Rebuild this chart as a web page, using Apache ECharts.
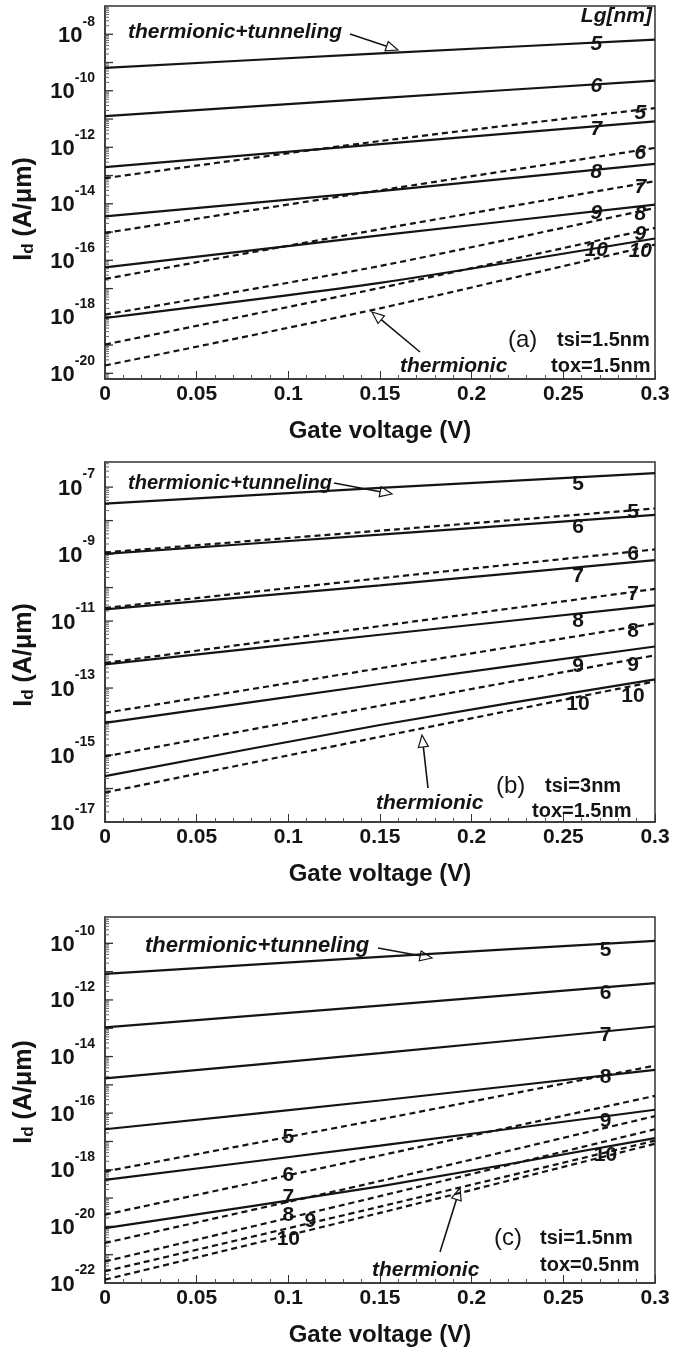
<!DOCTYPE html>
<html><head><meta charset="utf-8">
<script src="https://cdn.jsdelivr.net/npm/echarts@6/dist/echarts.min.js"></script>
<style>html,body{margin:0;padding:0;background:#fff}#c{width:686px;height:1354px}</style>
</head><body><div id="c"></div>
<script>
// Gate voltage sample points (V)
const gateVoltage = [0, 0.15, 0.3];
const gateLengths = ['5', '6', '7', '8', '9', '10'];
const xTicks = [0, 0.05, 0.1, 0.15, 0.2, 0.25, 0.3];
// Drain current Id (A/um); rows = Lg 5..10, columns = gateVoltage
// (a) tsi=1.5nm tox=1.5nm
const aTunneling = [[6.5e-10, 2.1e-9, 6.5e-9], [1.26e-11, 5.5e-11, 2.3e-10], [2.0e-13, 1.3e-12, 8.3e-12], [3.6e-15, 2.8e-14, 2.6e-13], [5.6e-17, 7.6e-16, 9.3e-15], [9.1e-19, 1.6e-17, 5.9e-16]];
const aThermionic = [[8.1e-14, 1.66e-12, 2.45e-11], [9.3e-16, 3.0e-14, 9.5e-13], [2.2e-17, 1.26e-15, 6.3e-14], [1.2e-18, 6.3e-17, 7.1e-15], [1.05e-19, 1.05e-17, 1.4e-15], [1.9e-20, 2.0e-18, 3.6e-16]];
// (b) tsi=3nm tox=1.5nm
const bTunneling = [[3.2e-8, 9.5e-8, 2.6e-7], [1.02e-9, 3.8e-9, 1.48e-8], [2.24e-11, 1.17e-10, 6.6e-10], [5.1e-13, 3.9e-12, 2.95e-11], [9.1e-15, 1.32e-13, 1.74e-12], [2.34e-16, 7.9e-15, 1.82e-13]];
const bThermionic = [[1.12e-9, 5.0e-9, 2.3e-8], [2.45e-11, 1.9e-10, 1.38e-9], [5.6e-13, 7.1e-12, 9.1e-11], [1.82e-14, 3.9e-13, 8.5e-12], [9.1e-16, 2.95e-14, 9.5e-13], [7.6e-17, 3.5e-15, 1.58e-13]];
// (c) tsi=1.5nm tox=0.5nm
const cTunneling = [[8.3e-12, 3.3e-11, 1.23e-10], [1.07e-13, 6.3e-13, 3.9e-12], [1.7e-15, 1.32e-14, 1.15e-13], [2.7e-17, 2.8e-16, 3.4e-15], [4.4e-19, 7.1e-18, 1.32e-16], [8.7e-21, 2.6e-19, 1.32e-17]];
const cThermionic = [[8.7e-19, 6.0e-17, 4.8e-15], [2.6e-20, 3.2e-18, 4.1e-16], [2.6e-21, 4.0e-19, 7.9e-17], [5.8e-22, 1.17e-19, 2.7e-17], [2.6e-22, 5.0e-20, 1.07e-17], [1.32e-22, 3.0e-20, 8.3e-18]];
// y tick labels (powers of ten) per panel
const aYLabels = [-20, -18, -16, -14, -12, -10, -8];
const bYLabels = [-17, -15, -13, -11, -9, -7];
const cYLabels = [-22, -20, -18, -16, -14, -12, -10];
const panelText = [
  {tag: '(a)', tsi: 'tsi=1.5nm', tox: 'tox=1.5nm'},
  {tag: '(b)', tsi: 'tsi=3nm', tox: 'tox=1.5nm'},
  {tag: '(c)', tsi: 'tsi=1.5nm', tox: 'tox=0.5nm'}
];

const FONT = "'Liberation Sans', Arial, sans-serif";
const INK = '#141414';

const panels = [
  {solid: aTunneling, dashed: aThermionic, yMin: -20.2, yMax: -7, yStep: 0.2, yLabels: aYLabels,
   grid: {left: 105, top: 6, width: 550, height: 373},
   sLabX: 0.268, dLabX: 0.292, sOff: [2, 2, 3, 3, 2, 2], dOff: [3, 3, 3, 3, 3, 3], dX: null, italic: true},
  {solid: bTunneling, dashed: bThermionic, yMin: -17, yMax: -6.25, yStep: 1, yLabels: bYLabels,
   grid: {left: 105, top: 462, width: 550, height: 360},
   sLabX: 0.258, dLabX: 0.288, sOff: [7, 7, 9, 8, 9, 12], dOff: [2, 2, 2, 4, 6, 10], dX: null, italic: false},
  {solid: cTunneling, dashed: cThermionic, yMin: -22, yMax: -9.07, yStep: 1, yLabels: cYLabels,
   grid: {left: 105, top: 917, width: 550, height: 366},
   sLabX: 0.273, dLabX: 0.1, sOff: [7, 6, 4, 2, 5, 8], dOff: [0, 0, -4, -3, -2, 4], dX: [0.1, 0.1, 0.1, 0.1, 0.112, 0.1], italic: false}
];

function logInterp(vals, x) {
  const lg = vals.map(v => Math.log10(v));
  for (let k = 0; k < gateVoltage.length - 1; k++) {
    const x0 = gateVoltage[k], x1 = gateVoltage[k + 1];
    if (x >= x0 && x <= x1) return lg[k] + (lg[k + 1] - lg[k]) * (x - x0) / (x1 - x0);
  }
  return lg[lg.length - 1];
}

const grids = [], xAxes = [], yAxes = [], series = [];
panels.forEach((p, pi) => {
  grids.push(Object.assign({show: true, borderColor: '#333', borderWidth: 1.5, backgroundColor: 'transparent'}, p.grid));
  xAxes.push({
    type: 'value', gridIndex: pi, min: 0, max: 0.3, interval: 0.05,
    name: 'Gate voltage (V)', nameLocation: 'middle', nameGap: 40,
    nameTextStyle: {fontFamily: FONT, fontWeight: 'bold', fontSize: 24, color: INK},
    axisLine: {show: true, lineStyle: {color: '#333', width: 1.5}},
    axisTick: {show: true, inside: true, length: 8, lineStyle: {color: '#333'}},
    minorTick: {show: true, splitNumber: 5, length: 4, lineStyle: {color: '#555'}},
    splitLine: {show: false},
    axisLabel: {fontFamily: FONT, fontWeight: 'bold', fontSize: 21, color: INK, margin: 5,
      formatter: v => (xTicks.indexOf(+v.toFixed(2)) >= 0 ? String(+v.toFixed(2)) : '')}
  });
  yAxes.push({
    type: 'value', gridIndex: pi, min: p.yMin, max: p.yMax, interval: p.yStep,
    axisLine: {show: true, lineStyle: {color: '#333', width: 1.5}},
    axisTick: {show: false},
    minorTick: {show: false},
    splitLine: {show: false},
    axisLabel: {
      margin: 10, showMaxLabel: false, showMinLabel: true, padding: [0, 0, 7, 0],
      formatter: v => (p.yLabels.indexOf(Math.round(v)) >= 0 && Math.abs(v - Math.round(v)) < 1e-6) ? '{b|10}{s|' + Math.round(v) + '}' : '',
      rich: {
        b: {fontFamily: FONT, fontWeight: 'bold', fontSize: 22, color: INK, lineHeight: 32, verticalAlign: 'bottom'},
        s: {fontFamily: FONT, fontWeight: 'bold', fontSize: 14, color: INK, lineHeight: 14, verticalAlign: 'top'}
      }
    }
  });
  // decade ticks (long) and logarithmic minor ticks (2..9 x 10^n), placed through the y axis scale
  const tickData = [];
  for (let n = Math.floor(p.yMin); n <= Math.ceil(p.yMax); n++) {
    for (let k = 1; k <= 9; k++) {
      const e = n + Math.log10(k);
      if (e > p.yMin + 1e-9 && e < p.yMax - 1e-9) tickData.push([0, e, k === 1 ? 8 : 4]);
    }
  }
  series.push({
    type: 'custom', xAxisIndex: pi, yAxisIndex: pi, silent: true, data: tickData, z: 1,
    renderItem: (params, api) => {
      const pt = api.coord([api.value(0), api.value(1)]);
      const len = api.value(2);
      return {type: 'line', shape: {x1: pt[0], y1: pt[1], x2: pt[0] + len, y2: pt[1]},
        style: {stroke: len > 5 ? '#333' : '#666', lineWidth: len > 5 ? 1.3 : 1}};
    }
  });
  const labelFont = {fontFamily: FONT, fontWeight: 'bold', fontStyle: p.italic ? 'italic' : 'normal', fontSize: 21, color: INK};
  p.solid.forEach((vals, i) => {
    series.push({
      type: 'line', name: 'thermionic+tunneling Lg=' + gateLengths[i], xAxisIndex: pi, yAxisIndex: pi,
      data: gateVoltage.map((v, k) => [v, Math.log10(vals[k])]),
      smooth: 0.25, symbol: 'none', lineStyle: {color: INK, width: 2.2, type: 'solid'},
      markPoint: {symbol: 'circle', symbolSize: 1, itemStyle: {color: 'transparent'},
        label: Object.assign({show: true, position: 'inside', offset: [0, p.sOff[i]], formatter: gateLengths[i]}, labelFont),
        data: [{coord: [p.sLabX, logInterp(vals, p.sLabX)]}]}
    });
  });
  p.dashed.forEach((vals, i) => {
    const lx = p.dX ? p.dX[i] : p.dLabX;
    series.push({
      type: 'line', name: 'thermionic Lg=' + gateLengths[i], xAxisIndex: pi, yAxisIndex: pi,
      data: gateVoltage.map((v, k) => [v, Math.log10(vals[k])]),
      smooth: 0.25, symbol: 'none', lineStyle: {color: INK, width: 2.2, type: [6, 4]},
      markPoint: {symbol: 'circle', symbolSize: 1, itemStyle: {color: 'transparent'},
        label: Object.assign({show: true, position: 'inside', offset: [0, p.dOff[i]], formatter: gateLengths[i]}, labelFont),
        data: [{coord: [lx, logInterp(vals, lx)]}]}
    });
  });
});

function arrow(x1, y1, x2, y2) {
  const ang = Math.atan2(y2 - y1, x2 - x1), L = 12, W = 5;
  const bx = x2 - L * Math.cos(ang), by = y2 - L * Math.sin(ang);
  const nx = -Math.sin(ang), ny = Math.cos(ang);
  return [
    {type: 'line', shape: {x1: x1, y1: y1, x2: bx, y2: by}, style: {stroke: INK, lineWidth: 1.6}},
    {type: 'polygon', shape: {points: [[x2, y2], [bx + nx * W, by + ny * W], [bx - nx * W, by - ny * W]]}, style: {fill: '#fff', stroke: INK, lineWidth: 1.2}}
  ];
}
function txt(x, y, s, font, align) {
  return {type: 'text', x: x, y: y, style: {text: s, font: font, fill: INK, align: align || 'left', verticalAlign: 'middle'}};
}
const IB = 'italic bold 21px ' + FONT;
const B20 = 'bold 20px ' + FONT;
const R24 = 'normal 24px ' + FONT;
function yTitle(x, y) {
  return {type: 'text', x: x, y: y, rotation: Math.PI / 2,
    style: {text: '{b|I}{d|d}{b| (A/μm)}', align: 'center', verticalAlign: 'middle', fill: INK,
      rich: {b: {fontFamily: FONT, fontWeight: 'bold', fontSize: 25, lineHeight: 30, verticalAlign: 'bottom', fill: INK},
             d: {fontFamily: FONT, fontWeight: 'bold', fontSize: 17, lineHeight: 20, verticalAlign: 'bottom', fill: INK}}}};
}
const graphics = [].concat(
  [txt(128, 32, 'thermionic+tunneling', IB)], arrow(350, 34, 398, 50),
  [txt(652, 16, 'Lg[nm]', 'italic bold 21px ' + FONT, 'right')],
  [txt(400, 366, 'thermionic', IB)], arrow(420, 352, 372, 312),
  [txt(508, 340, panelText[0].tag, R24), txt(557, 340, panelText[0].tsi, B20), txt(551, 366, panelText[0].tox, B20)],
  [yTitle(22, 209)],

  [txt(128, 483, 'thermionic+tunneling', 'italic bold 20px ' + FONT)], arrow(334, 483, 392, 494),
  [txt(376, 803, 'thermionic', IB)], arrow(428, 788, 422, 735),
  [txt(496, 786, panelText[1].tag, R24), txt(545, 786, panelText[1].tsi, B20), txt(532, 811, panelText[1].tox, B20)],
  [yTitle(22, 655)],

  [txt(145, 946, 'thermionic+tunneling', 'italic bold 22px ' + FONT)], arrow(378, 948, 432, 958),
  [txt(372, 1270, 'thermionic', IB)], arrow(440, 1252, 460, 1188),
  [txt(494, 1238, panelText[2].tag, R24), txt(540, 1238, panelText[2].tsi, B20), txt(540, 1265, panelText[2].tox, B20)],
  [yTitle(22, 1092)]
);

const chart = echarts.init(document.getElementById('c'), null, {renderer: 'canvas'});
chart.setOption({
  animation: false,
  backgroundColor: '#fff',
  grid: grids, xAxis: xAxes, yAxis: yAxes, series: series,
  graphic: {elements: graphics}
});
</script></body></html>
